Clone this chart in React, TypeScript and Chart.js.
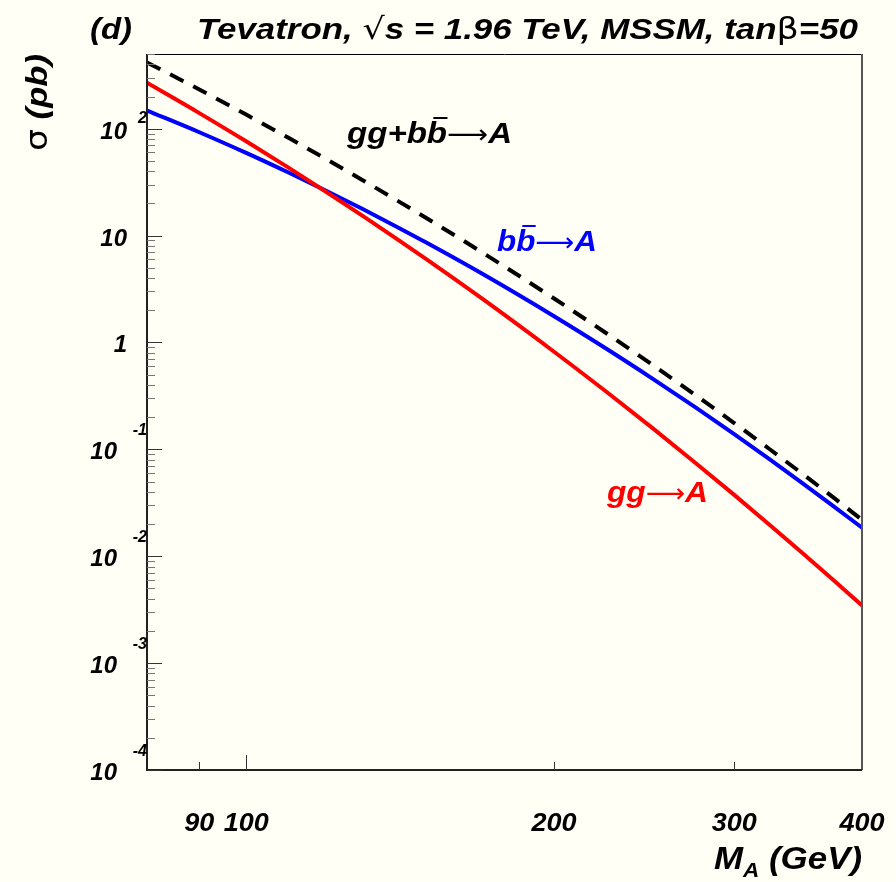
import { useEffect, useRef } from "react";
import { Chart, registerables } from "chart.js";

Chart.register(...registerables);

// Cross sections (pb) versus pseudoscalar mass M_A (GeV), tan(beta) = 50
const massGeV = [80, 90, 100, 110, 120, 130, 140, 150, 170, 200, 225, 250, 275, 300, 325, 350, 375, 400];
const sigmaTotal = [417, 232.6, 135.6, 82.1, 51.3, 33.0, 21.7, 14.6, 6.99, 2.578, 1.219, 0.6105, 0.3213, 0.1763, 0.1002, 0.0588, 0.0355, 0.0219];
const sigmaBB = [148.1, 92.7, 59.4, 38.9, 26.0, 17.7, 12.25, 8.6, 4.41, 1.759, 0.873, 0.4544, 0.2467, 0.1388, 0.0806, 0.04815, 0.02949, 0.01846];
const sigmaGG = [268.9, 139.9, 76.2, 43.2, 25.3, 15.3, 9.48, 6.02, 2.58, 0.819, 0.3456, 0.1561, 0.0746, 0.0375, 0.01964, 0.01067, 0.00599, 0.003464];

// Axis ranges and tick marks
const xRange = [80, 400];
const yRange = [1e-4, 500];
const xMajorTicks = [100];
const xMinorTicks = [90, 200, 300];
const xTickLabels = ["90", "100", "200", "300", "400"];
const yDecades = [-4, -3, -2, -1, 0, 1, 2];

const BG = "#fffff5";
const SANS = '"Liberation Sans", Arial, sans-serif';
const SYM = '"DejaVu Sans", sans-serif';
const bi = (s: number) => `italic bold ${s}px ${SANS}`;
const sym = (s: number) => `${s}px ${SYM}`;
const ARROW = "⟶";

type Seg = { t: string; font: string; dy?: number; bar?: boolean };

function richWidth(ctx: CanvasRenderingContext2D, segs: Seg[]) {
  let w = 0;
  for (const s of segs) {
    ctx.font = s.font;
    w += ctx.measureText(s.t).width;
  }
  return w;
}

// Draws a run of text segments starting at (x, y); when a width is given the
// run is stretched horizontally to span it (the wide ROOT-style lettering).
function drawRich(
  ctx: CanvasRenderingContext2D,
  segs: Seg[],
  x: number,
  y: number,
  color: string,
  opts: { align?: "left" | "right" | "center"; width?: number } = {}
) {
  const natural = richWidth(ctx, segs);
  const sx = opts.width ? opts.width / natural : 1;
  const w = natural * sx;
  const align = opts.align || "left";
  const left = align === "left" ? x : align === "right" ? x - w : x - w / 2;
  ctx.save();
  ctx.translate(left, y);
  ctx.scale(sx, 1);
  ctx.fillStyle = color;
  ctx.strokeStyle = color;
  ctx.textAlign = "left";
  ctx.textBaseline = "alphabetic";
  let cx = 0;
  for (const s of segs) {
    ctx.font = s.font;
    const m = ctx.measureText(s.t);
    ctx.fillText(s.t, cx, s.dy || 0);
    if (s.bar) {
      const top = (s.dy || 0) - m.actualBoundingBoxAscent - 3;
      ctx.lineWidth = 2;
      ctx.beginPath();
      ctx.moveTo(cx + m.width * 0.32, top);
      ctx.lineTo(cx + m.width * 1.02, top);
      ctx.stroke();
    }
    cx += m.width;
  }
  ctx.restore();
}

const rootStyle = {
  id: "rootStyle",
  beforeDraw(chart: any) {
    const { ctx } = chart;
    ctx.save();
    ctx.fillStyle = BG;
    ctx.fillRect(0, 0, chart.width, chart.height);
    ctx.restore();
  },
  afterDatasetsDraw(chart: any) {
    const { ctx, chartArea: a, scales } = chart;
    const xs = scales.x;
    const ys = scales.y;
    ctx.save();

    // frame
    ctx.lineCap = "butt";
    ctx.strokeStyle = "#000";
    ctx.lineWidth = 1;
    ctx.beginPath();
    ctx.moveTo(a.left, a.top + 0.5);
    ctx.lineTo(a.right, a.top + 0.5);
    ctx.stroke();
    ctx.strokeStyle = "#555";
    ctx.lineWidth = 2;
    ctx.beginPath();
    ctx.moveTo(a.right, a.top);
    ctx.lineTo(a.right, a.bottom);
    ctx.stroke();
    ctx.strokeStyle = "#222";
    ctx.beginPath();
    ctx.moveTo(a.left, a.top);
    ctx.lineTo(a.left, a.bottom);
    ctx.lineTo(a.right, a.bottom);
    ctx.stroke();

    // y ticks: long at each decade, short at 2..9
    ctx.lineWidth = 1;
    for (const d of yDecades) {
      for (let k = 1; k <= 9; k++) {
        const v = k * Math.pow(10, d);
        if (v < yRange[0] || v > yRange[1]) continue;
        const py = Math.round(ys.getPixelForValue(v)) + 0.5;
        ctx.strokeStyle = k === 1 ? "#333" : "#777";
        ctx.beginPath();
        ctx.moveTo(a.left, py);
        ctx.lineTo(a.left + (k === 1 ? 15 : 8), py);
        ctx.stroke();
      }
    }
    // x ticks
    const xt = [...xMajorTicks.map((v) => [v, 15]), ...xMinorTicks.map((v) => [v, 8])];
    for (const [v, len] of xt) {
      const px = Math.round(xs.getPixelForValue(v)) + 0.5;
      ctx.strokeStyle = "#333";
      ctx.beginPath();
      ctx.moveTo(px, a.bottom);
      ctx.lineTo(px, a.bottom - len);
      ctx.stroke();
    }

    // y tick labels (powers of ten)
    for (const d of yDecades) {
      const py = ys.getPixelForValue(Math.pow(10, d));
      if (d === 0 || d === 1) {
        drawRich(ctx, [{ t: d === 0 ? "1" : "10", font: bi(24) }], a.left - 20, py + 10, "#000", { align: "right" });
      } else if (d > 1) {
        drawRich(ctx, [{ t: "10", font: bi(24) }], a.left - 20, py + 10, "#000", { align: "right" });
        drawRich(ctx, [{ t: String(d), font: bi(16) }], a.left, py - 6, "#000", { align: "right" });
      } else {
        drawRich(ctx, [{ t: "10", font: bi(24) }], a.left - 30, py + 10, "#000", { align: "right" });
        drawRich(ctx, [{ t: String(d), font: bi(16) }], a.left, py - 14, "#000", { align: "right" });
      }
    }
    // x tick labels
    xTickLabels.forEach((lab) => {
      const px = xs.getPixelForValue(Number(lab));
      drawRich(ctx, [{ t: lab, font: bi(25) }], px, a.bottom + 61, "#000", { align: "center", width: lab.length * 15 });
    });

    // axis titles
    drawRich(
      ctx,
      [
        { t: "M", font: bi(31) },
        { t: "A", font: bi(20), dy: 8 },
        { t: " (GeV)", font: bi(31) },
      ],
      714,
      869,
      "#000",
      { width: a.right - 714 }
    );
    ctx.save();
    ctx.translate(47, 151);
    ctx.rotate(-Math.PI / 2);
    drawRich(
      ctx,
      [
        { t: "σ", font: sym(30) },
        { t: " (pb)", font: bi(30) },
      ],
      0,
      0,
      "#000",
      { width: 97 }
    );
    ctx.restore();

    // title
    drawRich(ctx, [{ t: "(d)", font: bi(30) }], 90, 39, "#000", { width: 42 });
    drawRich(
      ctx,
      [
        { t: "Tevatron, ", font: bi(30) },
        { t: "√", font: sym(30) },
        { t: "s = 1.96 TeV, MSSM, tan", font: bi(30) },
        { t: "β", font: sym(30) },
        { t: "=50", font: bi(30) },
      ],
      197,
      39,
      "#000",
      { width: 661 }
    );

    // curve labels
    drawRich(
      ctx,
      [
        { t: "gg+b", font: bi(30) },
        { t: "b", font: bi(30), bar: true },
        { t: ARROW, font: sym(26) },
        { t: "A", font: bi(30) },
      ],
      347,
      143,
      "#000",
      { width: 165 }
    );
    drawRich(
      ctx,
      [
        { t: "b", font: bi(30) },
        { t: "b", font: bi(30), bar: true },
        { t: ARROW, font: sym(26) },
        { t: "A", font: bi(30) },
      ],
      497,
      251,
      "#0000ff",
      { width: 100 }
    );
    drawRich(
      ctx,
      [
        { t: "gg", font: bi(30) },
        { t: ARROW, font: sym(26) },
        { t: "A", font: bi(30) },
      ],
      607,
      502,
      "#ff0000",
      { width: 101 }
    );

    ctx.restore();
  },
};

export default function App() {
  const ref = useRef<HTMLCanvasElement | null>(null);

  useEffect(() => {
    if (!ref.current) return;
    const pts = (vals: number[]) => massGeV.map((m, i) => ({ x: m, y: vals[i] }));
    const chart = new Chart(ref.current, {
      type: "line",
      data: {
        datasets: [
          {
            label: "gg+bb→A",
            data: pts(sigmaTotal),
            borderColor: "#000",
            borderWidth: 4,
            borderDash: [15, 11],
            pointRadius: 0,
            cubicInterpolationMode: "monotone",
            order: 0,
          },
          {
            label: "gg→A",
            data: pts(sigmaGG),
            borderColor: "#ff0000",
            borderWidth: 4,
            pointRadius: 0,
            cubicInterpolationMode: "monotone",
            order: 1,
          },
          {
            label: "bb→A",
            data: pts(sigmaBB),
            borderColor: "#0000ff",
            borderWidth: 4,
            pointRadius: 0,
            cubicInterpolationMode: "monotone",
            order: 2,
          },
        ],
      },
      options: {
        responsive: false,
        animation: false,
        devicePixelRatio: 1,
        layout: { padding: { left: 147, right: 34, top: 54, bottom: 112 } },
        plugins: { legend: { display: false }, tooltip: { enabled: false } },
        scales: {
          x: {
            type: "logarithmic",
            min: xRange[0],
            max: xRange[1],
            grid: { display: false },
            border: { display: false },
            ticks: { display: false },
            afterFit: (s: any) => {
              s.height = 0;
            },
          },
          y: {
            type: "logarithmic",
            min: yRange[0],
            max: yRange[1],
            grid: { display: false },
            border: { display: false },
            ticks: { display: false },
            afterFit: (s: any) => {
              s.width = 0;
            },
          },
        },
      },
      plugins: [rootStyle],
    } as any);
    return () => chart.destroy();
  }, []);

  return (
    <div style={{ position: "fixed", left: 0, top: 0, width: 896, height: 882, background: BG }}>
      <canvas ref={ref} width={896} height={882} style={{ display: "block" }} />
    </div>
  );
}
